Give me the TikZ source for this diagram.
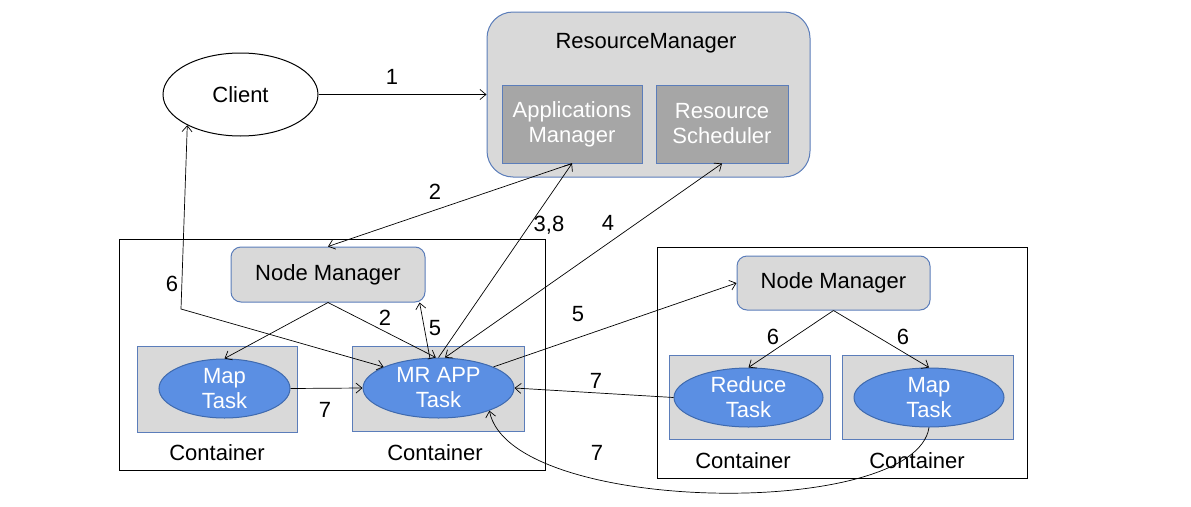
\documentclass[tikz,border=0pt]{standalone}
\usepackage{fontspec}
\setmainfont{Liberation Sans}
\usetikzlibrary{arrows.meta,shapes.geometric}
\definecolor{rmgray}{HTML}{D9D9D9}
\definecolor{boxline}{HTML}{5B7DBA}
\definecolor{ingray}{HTML}{A6A6A6}
\definecolor{taskblue}{HTML}{5B8FE3}
\definecolor{taskline}{HTML}{3F6AAE}

\begin{document}
\begin{tikzpicture}[x=1pt,y=-1pt,
	every node/.style={font=\fontsize{22}{25}\selectfont, inner sep=0pt},
	>={Straight Barb[length=6pt,width=10pt]},
	link/.style={line width=0.7pt},
	rmbox/.style={draw=boxline, line width=1pt, fill=rmgray, rounded corners=26pt, minimum width=323pt, minimum height=165pt},
	inbox/.style={draw=boxline, line width=1pt, fill=ingray, text=white, align=center, minimum height=78pt},
	hostbox/.style={draw, line width=1pt, minimum width=370pt, minimum height=231pt},
	nmbox/.style={draw=boxline, line width=1pt, fill=rmgray, rounded corners=10pt, minimum width=194pt, minimum height=55pt},
	ctbox/.style={draw=boxline, line width=1pt, fill=rmgray, minimum height=85pt},
	task/.style={ellipse, draw=taskline, line width=1pt, fill=taskblue, text=white, align=center, minimum height=59pt}]
	\useasboundingbox (0,0) rectangle (1191,506);
	% resource manager
	\node[rmbox] (rm) at (648.5,94.5) {};
	\node (rmtext) at (646,43) {ResourceManager};
	\node[inbox, minimum width=140pt] (am) at (572,124) {Applications\\Manager};
	\node[inbox, minimum width=132pt] (rs) at (722,124) {Resource\\Scheduler};
	\node[ellipse, draw, line width=1pt, minimum width=155pt, minimum height=83pt] (client) at (240.5,94.5) {Client};
	% first host
	\node[hostbox, minimum width=426pt] (host1) at (332,354.5) {};
	\node[nmbox] (nm1) at (328,274.5) {Node Manager};
	\node[ctbox, minimum width=160pt, minimum height=86pt] (ct1) at (217,389) {};
	\node[task, minimum width=131pt] (map1) at (224.5,388.5) {Map\\Task};
	\node[ctbox, minimum width=172pt] (ct2) at (438,388.5) {};
	\node[task, minimum width=151pt, minimum height=60pt] (mr) at (438.5,388) {MR APP\\Task};
	\node (ctl1) at (217,453) {Container};
	\node (ctl2) at (435,453) {Container};
	% second host
	\node[hostbox] (host2) at (842,362.5) {};
	\node[nmbox, minimum width=193pt, minimum height=54pt] (nm2) at (833.5,283) {Node Manager};
	\node[ctbox, minimum width=161pt, minimum height=84pt] (ct3) at (749.5,397) {};
	\node[task, minimum width=149pt] (reduce) at (748.5,397.5) {Reduce\\Task};
	\node[ctbox, minimum width=171pt, minimum height=84pt] (ct4) at (927.5,397) {};
	\node[task, minimum width=150pt] (map2) at (929,397.5) {Map\\Task};
	\node (ctl3) at (743,461) {Container};
	\node (ctl4) at (917,461) {Container};
	\coordinate (c6) at (181,309);
	% connectors
	\draw[link,->] (client.east) -- (rm.west);
	\draw[link,->] (am.south) -- (nm1.north);
	\draw[link,->] (mr.north) -- (am.south);
	\draw[link,<->] (rs.south) -- (mr.78);
	\draw[link,->] (nm1.south) -- (map1.north);
	\draw[link,->] (nm1.south) -- (mr.95);
	\draw[link,->] (mr.106) -- (nm1.-17);
	\draw[link,<->] (client.-150) -- (c6) -- (mr.159);
	\draw[link,->] (mr.21) -- (nm2.west);
	\draw[link,->] (map1.east) -- (mr.west);
	\draw[link,->] (reduce.west) -- (mr.east);
	\draw[link,->] (map2.south) .. controls (915,520) and (510,515) .. (mr.-24);
	\draw[link,->] (nm2.south) -- (reduce.north);
	\draw[link,->] (nm2.south) -- (map2.north);
	% labels
	\path (392,77) node (l1) {1};
	\path (435,192) node (l2a) {2};
	\path (549,225) node (l38) {3,8};
	\path (608,223) node (l4) {4};
	\path (172,284) node (l6a) {6};
	\path (385,318) node (l2b) {2};
	\path (435,328) node (l5a) {5};
	\path (578,314) node (l5b) {5};
	\path (325,410) node (l7a) {7};
	\path (596,381) node (l7b) {7};
	\path (597,453) node (l7c) {7};
	\path (773,337) node (l6b) {6};
	\path (903,337) node (l6c) {6};
\end{tikzpicture}
\end{document}
